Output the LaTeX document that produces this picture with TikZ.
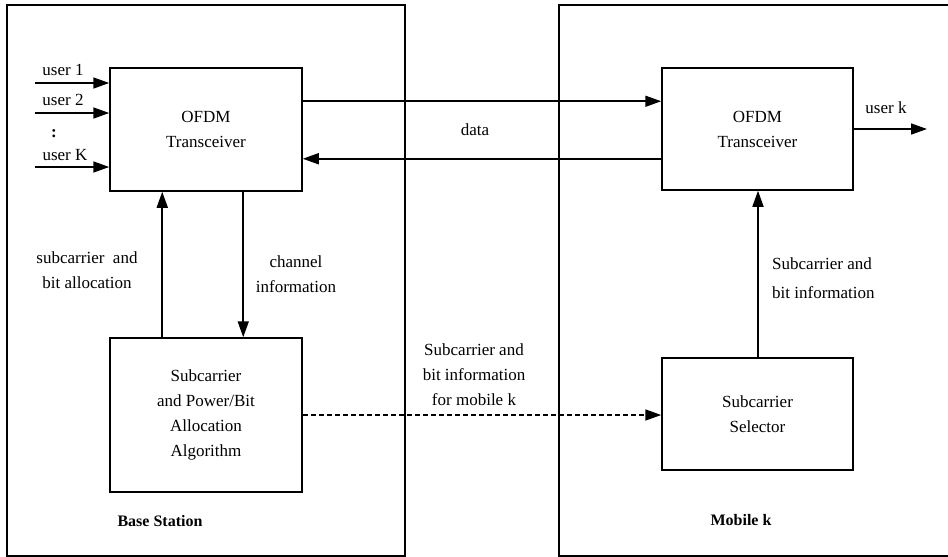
\documentclass[tikz,border=0pt]{standalone}
\usepackage{fontspec}
\setmainfont{Liberation Serif}
\usetikzlibrary{arrows.meta}
\begin{document}
\begin{tikzpicture}[x=1pt,y=-1pt,
  every node/.style={font=\fontsize{17}{25}\selectfont, inner sep=0pt},
  box/.style={draw, line width=1.5pt, align=center},
  region/.style={draw, line width=1.5pt},
  arr/.style={line width=1.7pt, -{Triangle[length=16pt,width=11pt]}},
  lbl/.style={align=center},
  bold/.style={font=\fontsize{16}{20}\selectfont\bfseries}]
\useasboundingbox (0,0) rectangle (948,557);
\fill[white] (0,0) rectangle (948,557);
% regions
\draw[region] (7,5) rectangle (405,556);
\draw[region] (960,5) -- (559,5) -- (559,556) -- (960,556);
% boxes
\node[box, minimum width=192pt, minimum height=123pt] (bsofdm) at (206,129.5) {OFDM\\Transceiver};
\node[box, minimum width=192pt, minimum height=154pt] (alloc) at (206,415) {Subcarrier\\and Power/Bit\\Allocation\\Algorithm};
\node[box, minimum width=191pt, minimum height=122pt] (mofdm) at (757.5,129) {OFDM\\Transceiver};
\node[box, minimum width=191pt, minimum height=112pt] (sel) at (757.5,414) {Subcarrier\\Selector};
% user inputs
\coordinate (u1) at (35,83);
\coordinate (u2) at (35,113);
\coordinate (uK) at (35,167);
\draw[arr] (u1) -- (u1 -| bsofdm.west);
\draw[arr] (u2) -- (u2 -| bsofdm.west);
\draw[arr] (uK) -- (uK -| bsofdm.west);
\node (l1) at (63,70) {user 1};
\node (l2) at (63,100) {user 2};
\node (ld) at (54,134) {\textbf{:}};
\node (lK) at (65,155) {user K};
% data
\draw[arr] ([yshift=-34pt]bsofdm.north east) -- ([yshift=-34pt]mofdm.north west);
\draw[arr] ([yshift=32pt]mofdm.south west) -- ([yshift=32pt]mofdm.south west -| bsofdm.east);
\node (ldata) at (475,130) {data};
% user k
\coordinate (uk) at (927,129);
\draw[arr] (mofdm.east) -- (uk);
\node (luk) at (886,108) {user k};
% vertical arrows base station
\draw[arr] ([xshift=53pt]alloc.north west) -- ([xshift=53pt]alloc.north west |- bsofdm.south);
\draw[arr] ([xshift=134pt]bsofdm.south west) -- ([xshift=134pt]bsofdm.south west |- alloc.north);
\node[lbl] (lsa) at (87,270.5) {subcarrier\ \ and\\bit allocation};
\node[lbl] (lci) at (296,274) {channel\\information};
% mobile up arrow
\draw[arr] ([xshift=0.5pt]sel.north) -- ([xshift=0.5pt]sel.north |- mofdm.south);
\node[align=left, anchor=west] (lsb) at (772,278.5) {Subcarrier and\\[4pt]bit information};
% dashed
\draw[arr, dash pattern=on 5pt off 3pt] (alloc.east) -- (alloc.east -| sel.west);
\node[lbl] (lsm) at (474,374.5) {Subcarrier and\\bit information\\for mobile k};
% region labels
\node[bold] (lbs) at (160,521) {Base Station};
\node[bold] (lmk) at (741,520) {Mobile k};
\end{tikzpicture}
\end{document}
